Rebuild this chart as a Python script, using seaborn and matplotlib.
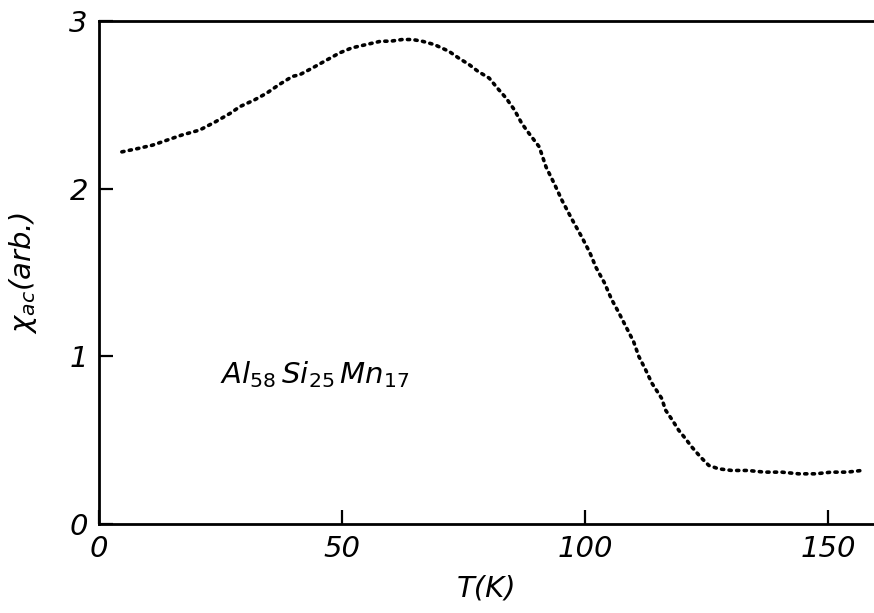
import matplotlib
matplotlib.use('Agg')
import matplotlib.pyplot as plt
import seaborn as sns
import pandas as pd

# valores
temp_k = [4.7, 8, 11, 14, 17, 20.7, 24, 27, 29, 32, 34.5, 37, 39.8, 41.3, 43.9, 47, 49.5,
          52, 55, 58, 60, 62.4, 64.5, 66.5, 69, 72, 74, 76.2, 78, 80.3, 82, 83.8, 85.5,
          87, 88.5, 90.6, 92, 93.7, 95.3, 97.3, 99.4, 101, 102.3, 104, 105.5, 107,
          108.4, 110, 111.1, 112.5, 113.8, 115.8, 116.6, 118, 119.3, 120.7, 122,
          123.8, 125.5, 127.5, 130.2, 133.5, 137, 140.5, 144, 147.5, 150.7, 154, 157]
chi_ac = [2.22, 2.24, 2.26, 2.29, 2.32, 2.35, 2.40, 2.45, 2.49, 2.53, 2.57, 2.62, 2.67,
          2.68, 2.72, 2.77, 2.81, 2.84, 2.86, 2.88, 2.88, 2.89, 2.89, 2.88, 2.86, 2.82,
          2.78, 2.74, 2.70, 2.66, 2.60, 2.54, 2.47, 2.39, 2.33, 2.25, 2.13, 2.03, 1.93,
          1.82, 1.71, 1.62, 1.53, 1.44, 1.34, 1.26, 1.18, 1.09, 1.00, 0.92, 0.84, 0.75,
          0.68, 0.62, 0.56, 0.51, 0.46, 0.40, 0.35, 0.33, 0.32, 0.32, 0.31, 0.31, 0.30,
          0.30, 0.31, 0.31, 0.32]

x_ticks = [0, 50, 100, 150]
y_ticks = [0, 1, 2, 3]

df = pd.DataFrame({'T': temp_k, 'chi': chi_ac})

sns.set_theme(style='ticks')
plt.rcParams['font.family'] = ['DejaVu Sans']
plt.rcParams['mathtext.fontset'] = 'dejavusans'
plt.rcParams['text.color'] = 'black'
plt.rcParams['axes.labelcolor'] = 'black'

fig = plt.figure(figsize=(8.74, 6.13), dpi=100)
ax = fig.add_axes([0.1133, 0.145, 0.8867, 0.8206])

sns.lineplot(data=df, x='T', y='chi', ax=ax, color='black', linewidth=2.6,
             linestyle=(0, (0.6, 1.5)), dash_capstyle='round')

ax.set_xlim(0, 159.5)
ax.set_ylim(0, 3)
ax.set_xticks(x_ticks)
ax.set_yticks(y_ticks)
ax.set_xticklabels([str(v) for v in x_ticks], fontsize=21, style='italic')
ax.set_yticklabels([str(v) for v in y_ticks], fontsize=21, style='italic')
ax.tick_params(direction='in', length=10, width=1.6, colors='black', pad=8)

for s in ['left', 'bottom', 'top']:
    ax.spines[s].set_linewidth(2)
    ax.spines[s].set_color('black')
ax.spines['right'].set_visible(False)

ax.set_xlabel('T(K)', fontsize=21, style='italic', labelpad=8, color='black')
ax.set_ylabel(r'$\chi_{ac}$(arb.)', fontsize=21, style='italic', labelpad=22, color='black')

ax.text(24.9, 0.84, r'Al$_{58}\,$Si$_{25}\,$Mn$_{17}$', fontsize=21, style='italic',
        color='black')

fig.savefig('out.png', dpi=100)
